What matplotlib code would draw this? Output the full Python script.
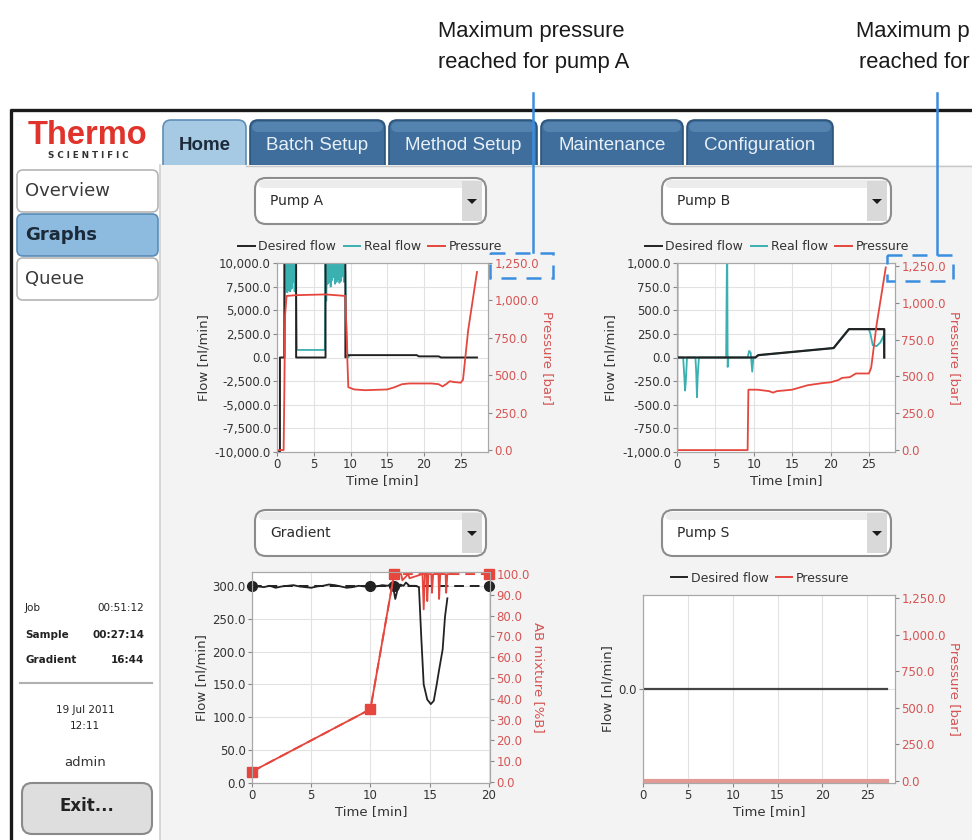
import matplotlib
matplotlib.use("Agg")
import matplotlib.pyplot as plt
from matplotlib.patches import FancyBboxPatch, Rectangle, Polygon
from matplotlib.lines import Line2D
from matplotlib.ticker import FuncFormatter

W, H = 972, 840

# ---------------- data ----------------
# Pump A
a_des_t = [0.0, 0.4, 0.4, 1.0, 1.0, 2.6, 2.6, 6.6, 6.6, 9.3, 9.3, 9.6, 19.0, 19.3, 22.0, 22.3, 27.2]
a_des = [-10000, -10000, 0, 0, 10000, 10000, 0, 0, 10000, 10000, 0, 250, 250, 120, 120, 0, 0]
a_real_t = [1.0, 1.1, 1.2, 1.3, 1.4, 1.5, 1.6, 1.7, 1.8, 1.9, 2.0, 2.1, 2.2, 2.3, 2.4, 2.5, 2.6,
            2.7, 6.5,
            6.6, 6.7, 6.8, 6.9, 7.0, 7.1, 7.2, 7.3, 7.4, 7.5, 7.6, 7.7, 7.8, 7.9, 8.0, 8.1, 8.2,
            8.3, 8.4, 8.5, 8.6, 8.7, 8.8, 8.9, 9.0, 9.1, 9.2, 9.3, 9.4, 9.5, 9.6, 9.8]
a_real = [0, 10000, 7000, 10000, 6900, 10000, 7100, 10000, 7000, 10000, 7300, 10000, 8000, 10000, 7000, 10000, 6800,
          800, 800,
          10000, 6000, 10000, 7800, 10000, 8000, 10000, 7500, 10000, 8200, 10000, 8500, 10000, 7800, 10000, 8000, 10000,
          8300, 10000, 7900, 10000, 8100, 10000, 8600, 10000, 8000, 10000, 9000, 4000, 2000, 0, 100]
a_press_t = [0.0, 0.9, 1.0, 1.1, 1.3, 2.6, 6.6, 9.3, 9.5, 9.7, 10.5, 12.0, 15.0, 16.0, 17.0, 18.0, 21.0, 22.0,
             22.5, 23.0, 23.5, 24.0, 25.0, 25.3, 26.0, 27.2]
a_press = [0, 0, 400, 900, 1030, 1035, 1040, 1030, 700, 420, 405, 400, 405, 420, 440, 445, 445, 440,
           425, 440, 460, 455, 450, 470, 800, 1190]

# Pump B
b_des_t = [0.0, 0.0, 0.0, 10.2, 10.6, 20.4, 22.4, 27.0, 27.0]
b_des = [-1000, 1000, 0, 0, 25, 100, 300, 300, 0]
b_real_t = [0.0, 0.8, 0.95, 1.05, 1.15, 1.3, 2.4, 2.5, 2.6, 2.7, 2.85, 6.4, 6.5, 6.55, 6.6, 6.7,
            9.2, 9.4, 9.6, 9.8, 9.95, 10.1, 10.2, 10.6, 20.4, 22.4, 25.0, 25.2, 25.5, 26.0, 26.5, 26.9, 27.0]
b_real = [0, 0, -200, -350, -250, 0, 0, -150, -420, -200, 0, 0, 1000, 1000, -100, 0,
          0, 70, 50, -150, 0, 0, 0, 25, 100, 300, 300, 250, 130, 120, 160, 230, 0]
b_press_t = [0.0, 9.2, 9.3, 10.5, 12.0, 12.5, 13.0, 15.0, 17.0, 19.0, 20.0, 21.0, 21.5, 22.5, 23.0,
             23.3, 24.0, 25.0, 25.3, 26.0, 27.2]
b_press = [0, 0, 410, 410, 400, 390, 400, 410, 440, 455, 460, 475, 490, 495, 510, 520, 520, 520, 560, 850, 1240]

# Gradient
g_flow_t = [0.0, 0.5, 1.0, 1.5, 2.0, 2.5, 3.0, 3.5, 4.0, 4.5, 5.0, 5.5, 6.0, 6.5, 7.0, 7.5, 8.0, 8.5,
            9.0, 9.5, 10.0, 10.5, 11.0, 11.5, 11.8, 12.0, 12.1, 12.3, 12.5, 12.8, 13.0, 13.3, 13.6, 13.8,
            14.1, 14.3, 14.5, 14.8, 15.1, 15.35, 15.6, 15.8, 16.1, 16.3, 16.5]
g_flow = [300, 299, 298, 300, 297, 299, 300, 301, 299, 298, 297, 299, 300, 302, 301, 299, 297, 298,
          300, 299, 300, 299, 301, 300, 305, 290, 280, 295, 302, 300, 305, 300, 300, 300,
          298, 220, 150, 127, 120, 125, 150, 172, 203, 253, 281]
g_set_t = [0, 10, 12, 20]
g_set_flow = [300, 300, 300, 300]
g_set_b = [5, 35, 100, 100]
g_mix_t = [0.0, 10.0, 12.0, 12.6, 12.7, 13.2, 13.3, 14.4, 14.5, 14.6, 14.75, 14.8, 14.9, 15.15, 15.2, 15.3,
           15.75, 15.8, 15.9, 16.35, 16.4, 16.5, 17.0]
g_mix = [5, 35, 100, 100, 97, 100, 98, 100, 83, 100, 100, 87, 100, 100, 91, 100,
         100, 88, 100, 100, 91, 100, 100]

# Pump S
s_t = [0.0, 27.2]
s_des = [0, 0]
s_press = [0, 0]

tabs = ["Home", "Batch Setup", "Method Setup", "Maintenance", "Configuration"]
side_buttons = ["Overview", "Graphs", "Queue"]

# ---------------- colours ----------------
BLACK = "#222222"
TEAL = "#3ab0b0"
RED = "#e5463d"
RED_TXT = "#d65454"
BLUE = "#3a8ee0"
GRID = "#e2e2e2"
SPINE = "#a8a8a8"

plt.rcParams["font.family"] = ["DejaVu Sans"]

fig = plt.figure(figsize=(9.72, 8.4), dpi=100)
bg = fig.add_axes([0, 0, 1, 1])
bg.set_xlim(0, W)
bg.set_ylim(H, 0)
bg.axis("off")


def box(x0, y0, x1, y1):
    return [x0 / W, 1 - y1 / H, (x1 - x0) / W, (y1 - y0) / H]


def rbox(x0, y0, x1, y1, fc, ec, r=6, lw=1.0, z=1):
    bg.add_patch(FancyBboxPatch((x0, y0), x1 - x0, y1 - y0,
                                boxstyle=f"round,pad=0,rounding_size={r}",
                                fc=fc, ec=ec, lw=lw, zorder=z))


# ---------------- app frame ----------------
bg.add_patch(Rectangle((12, 110), W - 12, H - 110, fc="white", ec="none", zorder=0))
tab_x = [(163, 246), (250, 385), (389, 537), (541, 683), (687, 833)]
for (x0, x1), name in zip(tab_x, tabs):
    if name == "Home":
        rbox(x0, 120, x1, 180, "#a6c9e4", "#5f8db5", r=8, lw=1.2)
        bg.text((x0 + x1) / 2, 145, name, ha="center", va="center", fontsize=13.5,
                fontweight="bold", color="#1c2b3a", family=["Liberation Sans"], zorder=3)
    else:
        rbox(x0, 120, x1, 180, "#3f6e9c", "#2c5479", r=8, lw=1.2)
        rbox(x0 + 2, 122, x1 - 2, 132, "#5583b0", "none", r=6, lw=0)
        bg.text((x0 + x1) / 2, 146, name, ha="center", va="center", fontsize=13.5,
                color="#e8f0f7", family=["Liberation Sans"], zorder=3)
bg.add_patch(Rectangle((160, 165), W - 160, H - 165, fc="#f3f3f3", ec="none", zorder=2))
bg.plot([246, W], [165.5, 165.5], color="#c8c8c8", lw=1, zorder=3)
bg.plot([160, 160], [165, H], color="#cfcfcf", lw=1.2, zorder=3)

# frame lines
bg.plot([10, W], [110, 110], color="#1a1a1a", lw=2.4, zorder=5, solid_capstyle="butt")
bg.plot([10.5, 10.5], [109, H], color="#1a1a1a", lw=2.4, zorder=5, solid_capstyle="butt")

# logo
bg.text(87, 136, "Thermo", ha="center", va="center", fontsize=23.5, fontweight="bold",
        color="#e0332b", family=["Liberation Sans"], zorder=3)
bg.text(88, 155, "S C I E N T I F I C", ha="center", va="center", fontsize=6.3,
        fontweight="bold", color="#333333", zorder=3)

# sidebar buttons
side_y = [(170, 212), (214, 256), (258, 300)]
for (y0, y1), name in zip(side_y, side_buttons):
    if name == "Graphs":
        rbox(17, y0, 158, y1, "#8dbbe0", "#5a8cb6", r=6, lw=1.2, z=3)
        bg.text(25, (y0 + y1) / 2, name, va="center", fontsize=13, fontweight="bold",
                color="#1b2a38", zorder=4)
    else:
        rbox(17, y0, 158, y1, "white", "#b5b5b5", r=6, lw=1.2, z=3)
        bg.text(25, (y0 + y1) / 2, name, va="center", fontsize=13, color="#3a3a3a", zorder=4)

# job info
info = [("Job", "00:51:12", "normal", 608), ("Sample", "00:27:14", "bold", 635),
        ("Gradient", "16:44", "bold", 660)]
for lab, val, wt, y in info:
    bg.text(25, y, lab, va="center", fontsize=7.5, fontweight=wt, color="#222", zorder=4)
    bg.text(144, y, val, va="center", ha="right", fontsize=7.5, fontweight=wt, color="#222", zorder=4)
bg.plot([20, 152], [683, 683], color="#b0b0b0", lw=1.5, zorder=4)
bg.text(85, 710, "19 Jul 2011", ha="center", va="center", fontsize=7.5, color="#222", zorder=4)
bg.text(85, 726, "12:11", ha="center", va="center", fontsize=7.5, color="#222", zorder=4)
bg.text(85, 763, "admin", ha="center", va="center", fontsize=9.5, color="#333", zorder=4)
rbox(22, 783, 152, 834, "#dedede", "#8a8a8a", r=10, lw=1.5, z=4)
bg.text(87, 806, "Exit...", ha="center", va="center", fontsize=12, fontweight="bold",
        color="#222", zorder=5)


def dropdown(x0, y0, x1, y1, label):
    rbox(x0, y0, x1, y1, "white", "#8c8c8c", r=11, lw=1.5, z=4)
    rbox(x0 + 3, y0 + 2, x1 - 3, y0 + 10, "#ececec", "none", r=6, lw=0, z=4)
    bg.add_patch(Rectangle((x1 - 24, y0 + 3), 20, y1 - y0 - 6, fc="#d9d9d9", ec="none", zorder=4))
    ym = (y0 + y1) / 2
    bg.add_patch(Polygon([(x1 - 19, ym - 2), (x1 - 9, ym - 2), (x1 - 14, ym + 3)],
                         fc="#1a1a1a", ec="none", zorder=5))
    bg.text(x0 + 15, ym, label, va="center", fontsize=10, color="#2a2a2a", zorder=5)


dropdown(255, 178, 486, 224, "Pump A")
dropdown(662, 178, 891, 224, "Pump B")
dropdown(255, 510, 486, 556, "Gradient")
dropdown(662, 510, 891, 556, "Pump S")

# annotations (the right one is cut by the page edge in the original)
ann_kw = dict(va="baseline", fontsize=15.8, family=["Liberation Sans"], color="#1a1a1a", zorder=6)
bg.text(438, 36.5, "Maximum pressure", **ann_kw)
bg.text(438, 68, "reached for pump A", **ann_kw)
bg.text(970, 36.5, "Maximum p", ha="right", **ann_kw)
bg.text(970, 68, "reached for", ha="right", **ann_kw)


def fmt(v, p):
    return f"{v:,.1f}"


def chart(rect, xlim, xticks, ylim, yticks, ylim2, yticks2, right_label):
    ax = fig.add_axes(box(*rect))
    ax.set_facecolor("white")
    ax.set_xlim(*xlim)
    ax.set_ylim(*ylim)
    ax.set_xticks(xticks)
    ax.set_yticks(yticks)
    ax.yaxis.set_major_formatter(FuncFormatter(fmt))
    ax.grid(True, color=GRID, lw=0.8)
    ax.set_axisbelow(True)
    for s in ax.spines.values():
        s.set_color(SPINE)
    ax.tick_params(labelsize=8.5, colors="#333333", length=3, color="#888888", pad=1.5)
    ax.set_xlabel("Time [min]", fontsize=9.5, color="#333333", labelpad=2)
    ax.set_ylabel("Flow [nl/min]", fontsize=9.5, color="#333333", labelpad=3)
    ax2 = ax.twinx()
    ax2.set_ylim(*ylim2)
    ax2.set_yticks(yticks2)
    ax2.yaxis.set_major_formatter(FuncFormatter(fmt))
    for s in ax2.spines.values():
        s.set_color(SPINE)
    ax2.tick_params(labelsize=8.5, colors=RED_TXT, length=3, color="#888888", pad=1.5)
    ax2.set_ylabel(right_label, fontsize=9.5, color=RED_TXT, rotation=270, labelpad=11)
    return ax, ax2


p_ticks = [0, 250, 500, 750, 1000, 1250]

# Pump A
ax, ax2 = chart((277, 263, 488, 452), (0, 28.7), [0, 5, 10, 15, 20, 25], (-10000, 10000),
                [-10000, -7500, -5000, -2500, 0, 2500, 5000, 7500, 10000], (-13, 1250), p_ticks,
                "Pressure [bar]")
ax.plot(a_real_t, a_real, color=TEAL, lw=1.3)
ax.plot(a_des_t, a_des, color=BLACK, lw=1.4)
ax2.plot(a_press_t, a_press, color=RED, lw=1.3)

# Pump B
ax, ax2 = chart((677, 263, 895, 452), (0, 28.4), [0, 5, 10, 15, 20, 25], (-1000, 1000),
                [-1000, -750, -500, -250, 0, 250, 500, 750, 1000], (-13, 1270), p_ticks,
                "Pressure [bar]")
ax.plot(b_real_t, b_real, color=TEAL, lw=1.3)
ax.plot(b_des_t, b_des, color=BLACK, lw=1.6)
ax2.plot(b_press_t, b_press, color=RED, lw=1.3)

# Gradient
ax, ax2 = chart((252, 572, 490, 783), (0, 20.1), [0, 5, 10, 15, 20], (0, 321),
                [0, 50, 100, 150, 200, 250, 300], (-0.5, 101),
                [0, 10, 20, 30, 40, 50, 60, 70, 80, 90, 100], "AB mixture [%B]")
ax.plot(g_set_t, g_set_flow, color=BLACK, lw=1.4, ls=(0, (5, 3)), marker="o", ms=7, clip_on=False)
ax.plot(g_flow_t, g_flow, color=BLACK, lw=1.3)
ax2.plot(g_set_t, g_set_b, color=RED, lw=1.4, ls=(0, (5, 3)), marker="s", ms=6.5, clip_on=False)
ax2.plot(g_mix_t, g_mix, color=RED, lw=1.3)

# Pump S
ax, ax2 = chart((643, 595, 895, 783), (0, 28.1), [0, 5, 10, 15, 20, 25], (-1, 1), [0],
                (-14, 1270), p_ticks, "Pressure [bar]")
ax.plot(s_t, s_des, color="#444444", lw=1.6)
ax2.plot(s_t, s_press, color="#e49a94", lw=3)

# legends
leg_kw = dict(loc="center", frameon=False, fontsize=9, handlelength=1.3, handletextpad=0.3,
              columnspacing=0.6, ncol=3, labelcolor="#333333")
h3 = [Line2D([], [], color=BLACK, lw=1.4), Line2D([], [], color=TEAL, lw=1.4),
      Line2D([], [], color=RED, lw=1.4)]
l3 = ["Desired flow", "Real flow", "Pressure"]
fig.legend(h3, l3, bbox_to_anchor=(370 / W, 1 - 247 / H), **leg_kw)
fig.legend(h3, l3, bbox_to_anchor=(777 / W, 1 - 247 / H), **leg_kw)
fig.legend([h3[0], h3[2]], ["Desired flow", "Pressure"], bbox_to_anchor=(760 / W, 1 - 578 / H), **leg_kw)

# blue callout lines and dashed boxes (drawn on top)
top = fig.add_axes([0, 0, 1, 1], facecolor="none")
top.set_xlim(0, W)
top.set_ylim(H, 0)
top.axis("off")
top.plot([533, 533], [93, 252], color=BLUE, lw=1.8)
top.plot([937, 937], [93, 254], color=BLUE, lw=1.8)
top.add_patch(Rectangle((490, 253), 63, 25, fill=False, ec=BLUE, lw=1.8, ls=(0, (6, 4))))
top.add_patch(Rectangle((887, 255), 66, 26, fill=False, ec=BLUE, lw=1.8, ls=(0, (6, 4))))

fig.savefig("out.png", dpi=100)
